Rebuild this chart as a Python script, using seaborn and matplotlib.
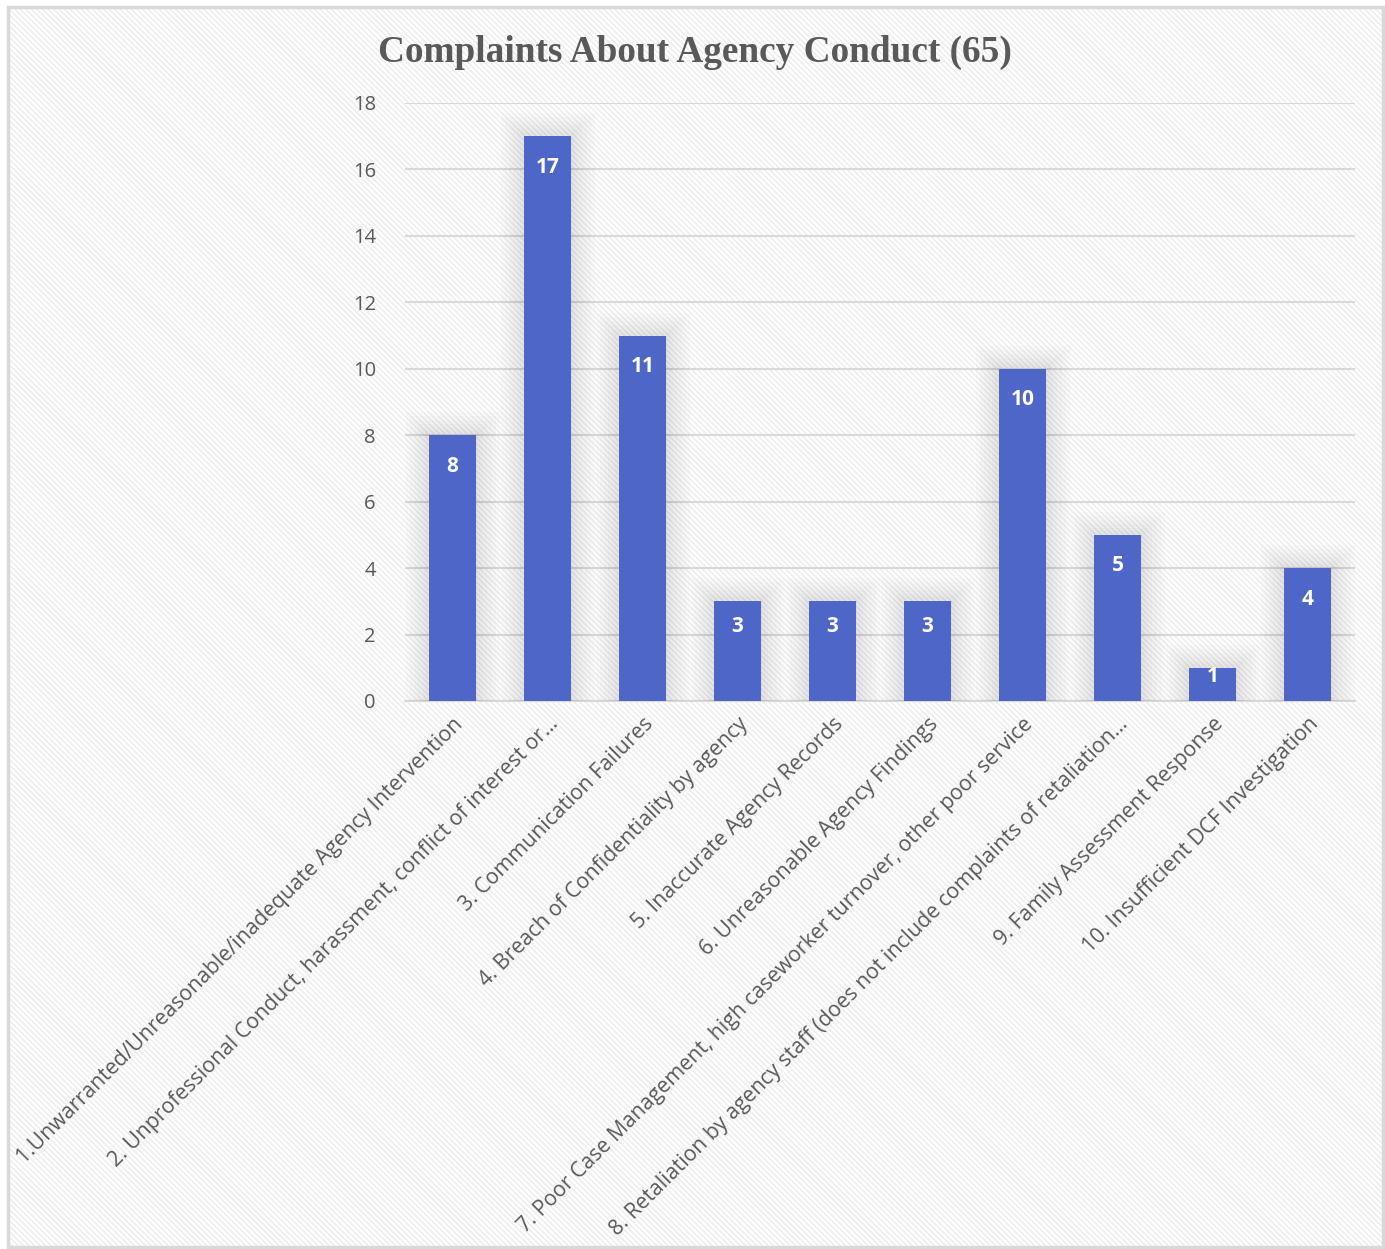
import matplotlib
matplotlib.use("Agg")
import matplotlib.pyplot as plt
import matplotlib.patheffects as pe
from matplotlib.patches import Rectangle
import seaborn as sns
import pandas as pd

categories = [
    "1.Unwarranted/Unreasonable/inadequate Agency Intervention",
    "2. Unprofessional Conduct, harassment, conflict of interest or\u2026",
    "3. Communication Failures",
    "4. Breach of Confidentiality by agency",
    "5. Inaccurate Agency Records",
    "6. Unreasonable Agency Findings",
    "7. Poor Case Management, high caseworker turnover, other poor service",
    "8. Retaliation by agency staff (does not include complaints of retaliation\u2026",
    "9. Family Assessment Response",
    "10. Insufficient DCF Investigation",
]
counts = [8, 17, 11, 3, 3, 3, 10, 5, 1, 4]
y_ticks = [0, 2, 4, 6, 8, 10, 12, 14, 16, 18]
title = "Complaints About Agency Conduct (65)"

BAR = "#4E66C7"
GRID = "#D9D9D9"
TEXT = "#595959"

sns.set_theme(style="white")
plt.rcParams["font.family"] = ["Open Sans", "DejaVu Sans"]
plt.rcParams["hatch.linewidth"] = 1.2

fig = plt.figure(figsize=(13.85, 12.49), dpi=100)
fig.patch.set_facecolor("white")

# diagonal striped chart-area background with a thin frame
bg = Rectangle((8 / 1385, 2 / 1249), 1375 / 1385, 1240 / 1249,
               transform=fig.transFigure, facecolor="white",
               edgecolor="#EEEEEE", hatch="\\\\\\\\\\\\", linewidth=0, zorder=-10)
fig.patches.append(bg)
frame = Rectangle((8 / 1385, 2 / 1249), 1375 / 1385, 1240 / 1249,
                  transform=fig.transFigure, facecolor="none",
                  edgecolor=GRID, linewidth=2.5, zorder=-9)
fig.patches.append(frame)

ax = fig.add_axes([405 / 1385, 1 - 701 / 1249, 950 / 1385, 598 / 1249])
ax.patch.set_alpha(0)

df = pd.DataFrame({"category": categories, "count": counts})
sns.barplot(data=df, x="category", y="count", color=BAR, width=0.505,
            saturation=1, ax=ax, zorder=3)

# soft glow around each bar
glow = [pe.Stroke(linewidth=w, foreground="#000000", alpha=0.016) for w in (34, 28, 22, 16, 10, 6)]
for p in ax.patches:
    p.set_path_effects(glow + [pe.Normal()])
    p.set_edgecolor(BAR)
    p.set_linewidth(0)

# value labels sit just inside the top of each bar; short bars keep them near the top edge
for i, v in enumerate(counts):
    drop = min(0.93, v * 0.25)
    ax.text(i, v - drop, str(v), ha="center", va="center", color="white",
            fontsize=15, fontweight="bold", zorder=5)

ax.set_ylim(0, 18)
ax.set_xlim(-0.5, len(categories) - 0.5)
ax.set_yticks(y_ticks)
ax.set_yticklabels([str(t) for t in y_ticks], fontsize=14.5, color=TEXT)
ax.tick_params(axis="y", length=0, pad=21)
ax.tick_params(axis="x", length=0, pad=9)
ax.set_xticks(range(len(categories)))
ax.set_xticklabels(categories, rotation=45, ha="right", rotation_mode="anchor",
                   fontsize=15.3, color=TEXT)
ax.set_xlabel("")
ax.set_ylabel("")
ax.grid(axis="y", color=GRID, linewidth=1.5, zorder=0)
ax.set_axisbelow(True)
for s in ("top", "right", "left"):
    ax.spines[s].set_visible(False)
ax.spines["bottom"].set_color(GRID)
ax.spines["bottom"].set_linewidth(1.5)

fig.text(695 / 1385, 1 - 52 / 1249, title, ha="center", va="center",
         fontsize=26.8, fontweight="bold", color=TEXT,
         family=["Liberation Serif", "DejaVu Serif"])

fig.savefig("out.png", dpi=100)
